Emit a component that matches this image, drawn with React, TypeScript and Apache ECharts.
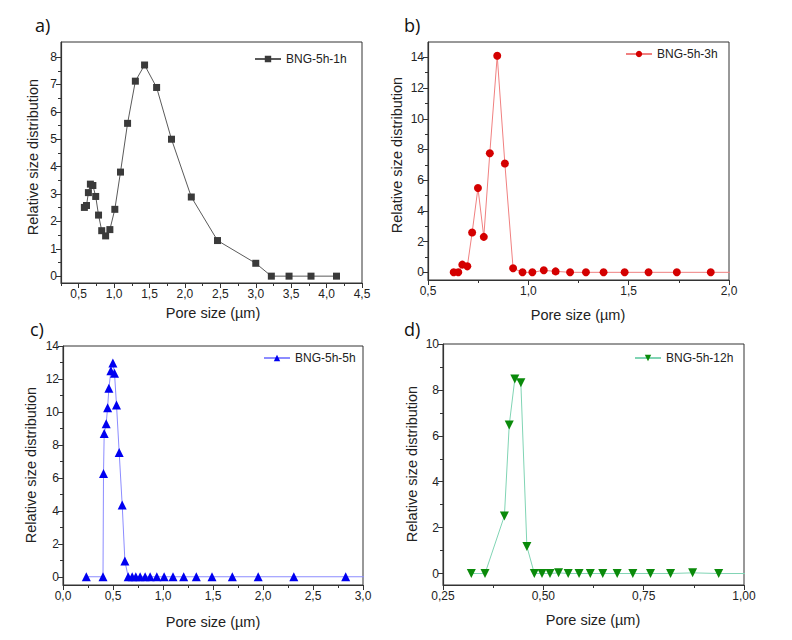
import React, { useEffect, useRef } from "react";
import * as echarts from "echarts";

// ---- Data ----
const A_NAME = "BNG-5h-1h";
const A_X = [0.58, 0.61, 0.637, 0.665, 0.7, 0.74, 0.78, 0.825, 0.88, 0.94, 1.01, 1.09, 1.19, 1.3, 1.43, 1.6, 1.81, 2.09, 2.46, 3.0, 3.22, 3.47, 3.78, 4.14];
const A_Y = [2.51, 2.58, 3.05, 3.36, 3.31, 2.91, 2.23, 1.66, 1.47, 1.7, 2.44, 3.8, 5.58, 7.12, 7.71, 6.89, 5.0, 2.89, 1.3, 0.47, 0, 0, 0, 0];

const B_NAME = "BNG-5h-3h";
const B_X = [0.628, 0.651, 0.671, 0.696, 0.72, 0.749, 0.778, 0.808, 0.845, 0.883, 0.924, 0.971, 1.02, 1.077, 1.136, 1.208, 1.287, 1.375, 1.48, 1.599, 1.74, 1.909, 2.1];
const B_Y = [0, 0, 0.5, 0.39, 2.59, 5.49, 2.31, 7.76, 14.1, 7.09, 0.26, 0, 0, 0.13, 0.06, 0, 0, 0, 0, 0, 0, 0, 0];

const C_NAME = "BNG-5h-5h";
const C_X = [0.233, 0.4, 0.405, 0.412, 0.432, 0.446, 0.459, 0.479, 0.499, 0.515, 0.535, 0.562, 0.592, 0.619, 0.652, 0.692, 0.728, 0.771, 0.821, 0.871, 0.938, 1.011, 1.1, 1.207, 1.333, 1.49, 1.693, 1.952, 2.308, 2.827, 3.2];
const C_Y = [0, 0, 6.26, 8.69, 9.29, 10.26, 11.43, 12.5, 12.97, 12.34, 10.42, 7.54, 4.36, 0.95, 0, 0, 0, 0, 0, 0, 0, 0, 0, 0, 0, 0, 0, 0, 0, 0, 0];

const D_NAME = "BNG-5h-12h";
const D_X = [0.3206, 0.3547, 0.403, 0.415, 0.429, 0.444, 0.459, 0.4776, 0.4967, 0.5166, 0.538, 0.562, 0.589, 0.617, 0.648, 0.684, 0.723, 0.767, 0.817, 0.872, 0.937, 1.05];
const D_Y = [0, 0, 2.51, 6.47, 8.48, 8.31, 1.18, 0, 0, 0, 0.03, 0, 0, 0, 0, 0, 0, 0, 0, 0.03, 0, 0];

// ---- Tick labels ----
const A_XTICKS = [0.5, 1, 1.5, 2, 2.5, 3, 3.5, 4, 4.5];
const A_XMINOR = [0.25, 0.75, 1.25, 1.75, 2.25, 2.75, 3.25, 3.75, 4.25];
const A_YTICKS = [0, 1, 2, 3, 4, 5, 6, 7, 8];
const A_YMINOR = [0.5, 1.5, 2.5, 3.5, 4.5, 5.5, 6.5, 7.5];

const B_XTICKS = [0.5, 1, 1.5, 2];
const B_XMINOR = [0.75, 1.25, 1.75];
const B_YTICKS = [0, 2, 4, 6, 8, 10, 12, 14];
const B_YMINOR = [1, 3, 5, 7, 9, 11, 13];

const C_XTICKS = [0, 0.5, 1, 1.5, 2, 2.5, 3];
const C_XMINOR = [0.25, 0.75, 1.25, 1.75, 2.25, 2.75];
const C_YTICKS = [0, 2, 4, 6, 8, 10, 12, 14];
const C_YMINOR = [1, 3, 5, 7, 9, 11, 13];

const D_XTICKS = [0.25, 0.5, 0.75, 1];
const D_XMINOR = [0.375, 0.625, 0.875];
const D_YTICKS = [0, 2, 4, 6, 8, 10];
const D_YMINOR = [1, 3, 5, 7, 9];

const FONT = "Liberation Sans, Arial, sans-serif";
const AXIS_COLOR = "#333";
const TEXT_COLOR = "#222";

type Panel = {
  name: string;
  xs: number[];
  ys: number[];
  grid: { left: number; top: number; width: number; height: number };
  xMin: number; xMax: number; yMin: number; yMax: number;
  xTicks: number[]; xMinor: number[]; yTicks: number[]; yMinor: number[];
  xDigits: number;
  symbol: string; symbolSize: number; symbolRotate: number;
  markerColor: string; lineColor: string;
  legendLeft: number; legendTop: number;
};

const panels: Panel[] = [
  {
    name: A_NAME, xs: A_X, ys: A_Y,
    grid: { left: 61, top: 42, width: 301, height: 241 },
    xMin: 0.25, xMax: 4.5, yMin: -0.25, yMax: 8.55,
    xTicks: A_XTICKS, xMinor: A_XMINOR, yTicks: A_YTICKS, yMinor: A_YMINOR, xDigits: 1,
    symbol: "rect", symbolSize: 7, symbolRotate: 0,
    markerColor: "#3a3a3a", lineColor: "#5a5a5a",
    legendLeft: 254, legendTop: 53,
  },
  {
    name: B_NAME, xs: B_X, ys: B_Y,
    grid: { left: 428, top: 42, width: 301, height: 238 },
    xMin: 0.5, xMax: 2.0, yMin: -0.5, yMax: 15,
    xTicks: B_XTICKS, xMinor: B_XMINOR, yTicks: B_YTICKS, yMinor: B_YMINOR, xDigits: 1,
    symbol: "circle", symbolSize: 8, symbolRotate: 0,
    markerColor: "#d40000", lineColor: "#f08080",
    legendLeft: 625, legendTop: 48,
  },
  {
    name: C_NAME, xs: C_X, ys: C_Y,
    grid: { left: 63, top: 346, width: 300, height: 239 },
    xMin: 0, xMax: 3, yMin: -0.5, yMax: 14,
    xTicks: C_XTICKS, xMinor: C_XMINOR, yTicks: C_YTICKS, yMinor: C_YMINOR, xDigits: 1,
    symbol: "triangle", symbolSize: 9, symbolRotate: 0,
    markerColor: "#0000f0", lineColor: "#8c8cff",
    legendLeft: 263, legendTop: 352,
  },
  {
    name: D_NAME, xs: D_X, ys: D_Y,
    grid: { left: 443, top: 344, width: 301, height: 241 },
    xMin: 0.25, xMax: 1.0, yMin: -0.5, yMax: 10,
    xTicks: D_XTICKS, xMinor: D_XMINOR, yTicks: D_YTICKS, yMinor: D_YMINOR, xDigits: 2,
    symbol: "triangle", symbolSize: 9, symbolRotate: 180,
    markerColor: "#0a8a0a", lineColor: "#80d4b4",
    legendLeft: 634, legendTop: 352,
  },
];

const LETTERS = [
  { text: "a)", x: 35, y: 25 },
  { text: "b)", x: 404, y: 25 },
  { text: "c)", x: 30, y: 329 },
  { text: "d)", x: 404, y: 329 },
];
const X_NAMES = [
  { x: 213, y: 313 },
  { x: 578, y: 315 },
  { x: 213, y: 622 },
  { x: 593, y: 620 },
];
const Y_NAMES = [
  { x: 33, y: 157 },
  { x: 397, y: 155 },
  { x: 31, y: 465 },
  { x: 412, y: 464 },
];
const X_TITLE = "Pore size (µm)";
const Y_TITLE = "Relative size distribution";

function buildOption() {
  const grid: any[] = [];
  const xAxis: any[] = [];
  const yAxis: any[] = [];
  const series: any[] = [];
  const legend: any[] = [];
  const fmt = (d: number) => (v: number) => v.toFixed(d).replace(".", ",");

  panels.forEach((p, i) => {
    grid.push({
      left: p.grid.left, top: p.grid.top, width: p.grid.width, height: p.grid.height,
      show: true, borderColor: AXIS_COLOR, borderWidth: 1, backgroundColor: "transparent",
    });
    xAxis.push({
      type: "value", gridIndex: i, min: p.xMin, max: p.xMax, position: "bottom",
      axisLine: { show: true, onZero: false, lineStyle: { color: AXIS_COLOR, width: 1.2 } },
      axisTick: { show: true, inside: false, length: 5, customValues: p.xTicks, lineStyle: { color: AXIS_COLOR, width: 1 } },
      axisLabel: { customValues: p.xTicks, formatter: fmt(p.xDigits), fontSize: 12, color: TEXT_COLOR, fontFamily: FONT, margin: 5 },
      splitLine: { show: false },
    });
    xAxis.push({
      type: "value", gridIndex: i, min: p.xMin, max: p.xMax, position: "bottom",
      axisLine: { show: false, onZero: false },
      axisTick: { show: true, inside: false, length: 3, customValues: p.xMinor, lineStyle: { color: AXIS_COLOR, width: 1 } },
      axisLabel: { show: false },
      splitLine: { show: false },
    });
    yAxis.push({
      type: "value", gridIndex: i, min: p.yMin, max: p.yMax, position: "left",
      axisLine: { show: true, onZero: false, lineStyle: { color: AXIS_COLOR, width: 1.2 } },
      axisTick: { show: true, inside: false, length: 5, customValues: p.yTicks, lineStyle: { color: AXIS_COLOR, width: 1 } },
      axisLabel: { customValues: p.yTicks, formatter: (v: number) => String(v), fontSize: 12, color: TEXT_COLOR, fontFamily: FONT, margin: 4 },
      splitLine: { show: false },
    });
    yAxis.push({
      type: "value", gridIndex: i, min: p.yMin, max: p.yMax, position: "left",
      axisLine: { show: false, onZero: false },
      axisTick: { show: true, inside: false, length: 3, customValues: p.yMinor, lineStyle: { color: AXIS_COLOR, width: 1 } },
      axisLabel: { show: false },
      splitLine: { show: false },
    });
    series.push({
      type: "line", name: p.name, xAxisIndex: 2 * i, yAxisIndex: 2 * i,
      data: p.xs.map((x, k) => [x, p.ys[k]]),
      symbol: p.symbol, symbolSize: p.symbolSize, symbolRotate: p.symbolRotate,
      showAllSymbol: true, clip: true,
      itemStyle: { color: p.markerColor },
      lineStyle: { color: p.lineColor, width: 1 },
      emphasis: { disabled: true },
    });
    legend.push({
      data: [p.name], left: p.legendLeft, top: p.legendTop, padding: 0,
      itemWidth: 26, itemHeight: 8, itemGap: 0,
      textStyle: { fontSize: 12, color: TEXT_COLOR, fontFamily: FONT },
      selectedMode: false,
    });
  });

  const graphic: any[] = [];
  LETTERS.forEach((l) => {
    graphic.push({
      type: "text", x: l.x, y: l.y,
      style: { text: l.text, fontSize: 18, fill: "#111", fontFamily: "Open Sans, Noto Sans, sans-serif", align: "left", verticalAlign: "middle" },
    });
  });
  X_NAMES.forEach((n) => {
    graphic.push({
      type: "text", x: n.x, y: n.y,
      style: { text: X_TITLE, fontSize: 14.5, fill: TEXT_COLOR, fontFamily: FONT, align: "center", verticalAlign: "middle" },
    });
  });
  Y_NAMES.forEach((n) => {
    graphic.push({
      type: "text", x: n.x, y: n.y, rotation: Math.PI / 2,
      style: { text: Y_TITLE, fontSize: 14.5, fill: TEXT_COLOR, fontFamily: FONT, align: "center", verticalAlign: "middle" },
    });
  });

  return {
    animation: false,
    backgroundColor: "#ffffff",
    grid, xAxis, yAxis, series, legend, graphic,
  };
}

export default function App() {
  const ref = useRef<HTMLDivElement>(null);
  useEffect(() => {
    if (!ref.current) return;
    const chart = echarts.init(ref.current, undefined, { renderer: "svg" });
    chart.setOption(buildOption() as any);
    return () => chart.dispose();
  }, []);
  return (
    <div
      ref={ref}
      style={{ position: "absolute", left: 0, top: 0, width: 792, height: 640, background: "#fff" }}
    />
  );
}
